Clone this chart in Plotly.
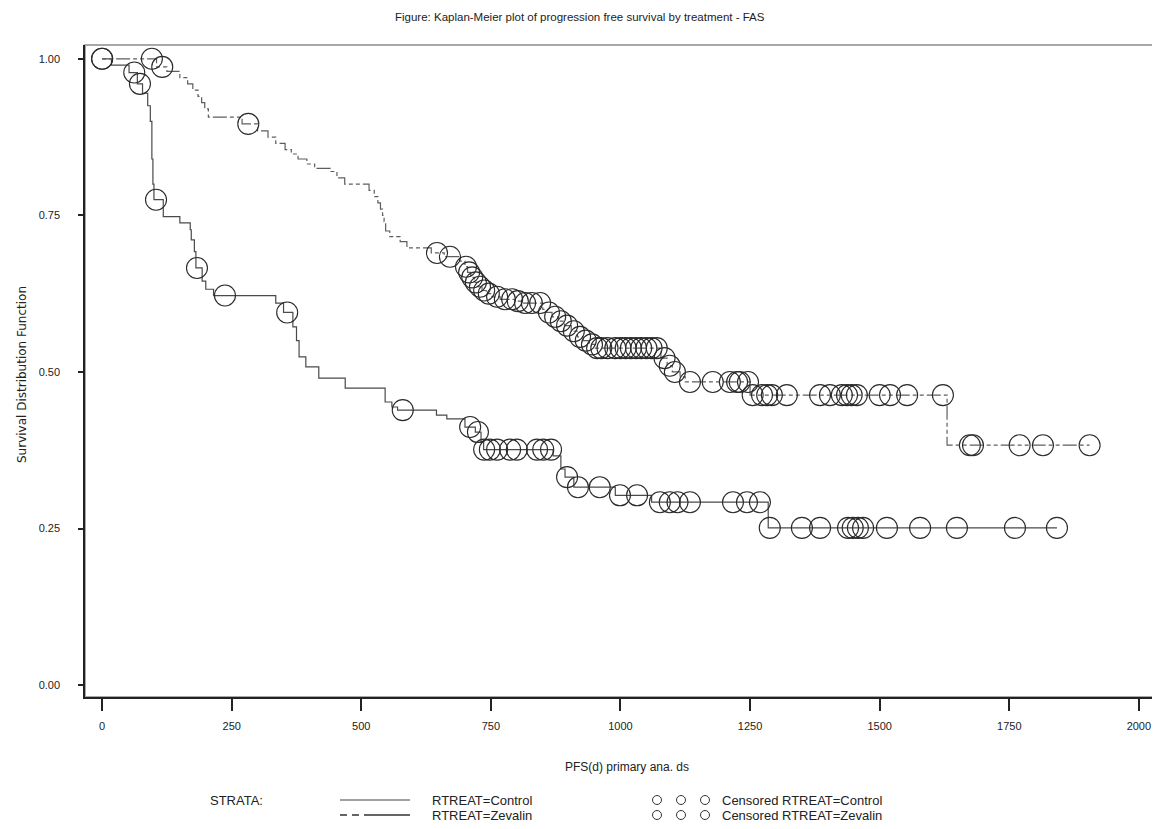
import plotly.graph_objects as go

# ---------------- data ----------------
# Control (solid): step events (time, survival after the event)
control_event_t = [0, 18, 52, 68, 78, 88, 93, 96, 98, 100, 118, 150, 170, 172, 178, 181,
                   193, 200, 215, 335, 350, 368, 375, 380, 393, 418, 469, 546, 559, 570,
                   645, 665, 700, 720, 731, 736, 870, 885, 893, 910, 990, 1060, 1285]
control_event_s = [1.0, 0.99, 0.978, 0.96, 0.945, 0.925, 0.90, 0.84, 0.80, 0.775, 0.748, 0.738, 0.727, 0.711, 0.692, 0.666,
                   0.645, 0.632, 0.622, 0.61, 0.595, 0.572, 0.55, 0.524, 0.508, 0.49, 0.474, 0.452, 0.444, 0.439,
                   0.431, 0.425, 0.412, 0.404, 0.388, 0.376, 0.366, 0.345, 0.332, 0.316, 0.303, 0.292, 0.251]
control_end_t = 1842
control_censor_t = [0, 62, 73, 104, 183, 237, 357, 580, 710, 725, 737, 748, 762, 787, 800, 839, 851, 866,
                    897, 918, 960, 999, 1032, 1076, 1095, 1110, 1134, 1217, 1244, 1269,
                    1288, 1350, 1385, 1439, 1448, 1458, 1468, 1514, 1578, 1649, 1761, 1842]

# Zevalin (dashed): step events
zev_event_t = [0, 105, 125, 150, 165, 175, 185, 192, 198, 205, 270, 300, 320, 335, 353, 365, 378, 395,
               410, 440, 453, 468, 515, 525, 532, 537, 541, 544, 547, 555, 575, 588, 635, 660, 690,
               700, 705, 711, 718, 725, 733, 741, 752, 768, 797, 810, 850, 857, 868, 880, 892, 905,
               917, 928, 940, 950, 1078, 1090, 1100, 1115, 1125, 1250, 1630]
zev_event_s = [1.0, 0.987, 0.98, 0.97, 0.96, 0.95, 0.94, 0.93, 0.92, 0.907, 0.896, 0.885, 0.875, 0.865, 0.855, 0.848, 0.84, 0.832,
               0.825, 0.82, 0.81, 0.80, 0.79, 0.78, 0.77, 0.76, 0.75, 0.74, 0.725, 0.716, 0.708, 0.698, 0.690, 0.684, 0.677,
               0.668, 0.659, 0.651, 0.643, 0.636, 0.630, 0.625, 0.620, 0.616, 0.613, 0.610, 0.600, 0.595, 0.588, 0.581, 0.574, 0.565,
               0.556, 0.550, 0.544, 0.538, 0.522, 0.510, 0.500, 0.492, 0.484, 0.463, 0.383]
zev_end_t = 1905
zev_censor_t = [0, 96, 116, 282, 646, 671, 702, 708, 714, 721, 729, 737, 746, 762, 777, 791, 802, 816, 829, 845,
                862, 874, 885, 897, 910, 922, 933, 945, 955, 963, 975, 990, 1000, 1010, 1020, 1030, 1040, 1050,
                1060, 1070, 1085, 1095, 1105, 1134, 1178, 1211, 1225, 1230, 1246, 1255, 1273, 1283, 1292, 1321,
                1385, 1404, 1427, 1437, 1446, 1456, 1500, 1520, 1553, 1622, 1674, 1680, 1770, 1815, 1905]

x_ticks = [0, 250, 500, 750, 1000, 1250, 1500, 1750, 2000]
y_ticks = [0.0, 0.25, 0.5, 0.75, 1.0]
y_tick_labels = ["0.00", "0.25", "0.50", "0.75", "1.00"]

title_text = "Figure: Kaplan-Meier plot of progression free survival by treatment - FAS"
x_title = "PFS(d) primary ana. ds"
y_title = "Survival Distribution Function"
strata = ["RTREAT=Control", "RTREAT=Zevalin"]


def surv_at(t, ev_t, ev_s):
    s = ev_s[0]
    for et, es in zip(ev_t, ev_s):
        if et <= t:
            s = es
    return s


def step_xy(ev_t, ev_s, end_t):
    return list(ev_t) + [end_t], list(ev_s) + [ev_s[-1]]


# page has an 8px body margin: work in reference-pixel coords and shift
OFF = 8
W, H = 1160 - OFF, 829 - OFF
L = 85 - OFF
T = 45 - OFF
RIGHT_EDGE = 1157 - OFF
BOTTOM_EDGE = 697 - OFF
R = W - RIGHT_EDGE
B = H - BOTTOM_EDGE
PW, PH = W - L - R, H - T - B

FONT = "Liberation Sans, Arial, sans-serif"
LINE_C = "#4a4a4a"
ZEV_C = "#5e5e5e"
MARK_C = "#2a2a2a"
ZEV_DASH = "4px,3px,4px,3px,14px,3px"

fig = go.Figure()

cx, cy = step_xy(control_event_t, control_event_s, control_end_t)
zx, zy = step_xy(zev_event_t, zev_event_s, zev_end_t)

fig.add_trace(go.Scatter(x=cx, y=cy, mode="lines", line=dict(shape="hv", color=LINE_C, width=1.2),
                         name=strata[0], showlegend=False))
fig.add_trace(go.Scatter(x=zx, y=zy, mode="lines",
                         line=dict(shape="hv", color=ZEV_C, width=1.2, dash=ZEV_DASH),
                         name=strata[1], showlegend=False))

fig.add_trace(go.Scatter(x=control_censor_t,
                         y=[surv_at(t, control_event_t, control_event_s) for t in control_censor_t],
                         mode="markers",
                         marker=dict(symbol="circle-open", size=21, color=MARK_C, line=dict(width=1.1)),
                         name="Censored " + strata[0], showlegend=False))
fig.add_trace(go.Scatter(x=zev_censor_t,
                         y=[surv_at(t, zev_event_t, zev_event_s) for t in zev_censor_t],
                         mode="markers",
                         marker=dict(symbol="circle-open", size=21, color=MARK_C, line=dict(width=1.1)),
                         name="Censored " + strata[1], showlegend=False))


def px(xp):
    # reference page pixel -> paper coord
    return (xp - OFF - L) / PW


def py(yp):
    return (H - B - (yp - OFF)) / PH


shapes = []
# grey frame (top/right visible; left/bottom covered by black axis lines)
shapes.append(dict(type="rect", xref="paper", yref="paper", x0=0, x1=1, y0=0, y1=1,
                   line=dict(color="#a8a8a8", width=2), layer="below"))

# legend line samples
shapes.append(dict(type="line", xref="paper", yref="paper", x0=px(340), x1=px(410), y0=py(800), y1=py(800),
                   line=dict(color="#808080", width=1.5)))
shapes.append(dict(type="line", xref="paper", yref="paper", x0=px(340), x1=px(410), y0=py(815), y1=py(815),
                   line=dict(color="#333333", width=1.5, dash="7px,5px,7px,5px,46px,100px")))
# legend circles
for yy in (800, 815):
    for xx in (657, 681, 705):
        shapes.append(dict(type="circle", xref="paper", yref="paper", xsizemode="pixel", ysizemode="pixel",
                           xanchor=px(xx), yanchor=py(yy), x0=-4.5, x1=4.5, y0=-4.5, y1=4.5,
                           line=dict(color="#333333", width=1)))

LEG_FS = 13
annotations = [
    dict(text=title_text, xref="paper", yref="paper", x=px(580), y=py(17), showarrow=False,
         font=dict(family=FONT, size=11.5, color="#222"), xanchor="center", yanchor="middle"),
    dict(text=x_title, xref="paper", yref="paper", x=px(627), y=py(767), showarrow=False,
         font=dict(family=FONT, size=12, color="#222"), xanchor="center", yanchor="middle"),
    dict(text=y_title, xref="paper", yref="paper", x=px(22), y=py(375), showarrow=False, textangle=-90,
         font=dict(family="DejaVu Sans, sans-serif", size=12, color="#222"), xanchor="center", yanchor="middle"),
    dict(text="STRATA:", xref="paper", yref="paper", x=px(208), y=py(800), showarrow=False,
         font=dict(family=FONT, size=LEG_FS, color="#222"), xanchor="left", yanchor="middle"),
    dict(text=strata[0], xref="paper", yref="paper", x=px(430), y=py(800), showarrow=False,
         font=dict(family=FONT, size=LEG_FS, color="#222"), xanchor="left", yanchor="middle"),
    dict(text=strata[1], xref="paper", yref="paper", x=px(430), y=py(815), showarrow=False,
         font=dict(family=FONT, size=LEG_FS, color="#222"), xanchor="left", yanchor="middle"),
    dict(text="Censored " + strata[0], xref="paper", yref="paper", x=px(720), y=py(800), showarrow=False,
         font=dict(family=FONT, size=LEG_FS, color="#222"), xanchor="left", yanchor="middle"),
    dict(text="Censored " + strata[1], xref="paper", yref="paper", x=px(720), y=py(815), showarrow=False,
         font=dict(family=FONT, size=LEG_FS, color="#222"), xanchor="left", yanchor="middle"),
]

fig.update_layout(
    width=W, height=H,
    margin=dict(l=L, r=R, t=T, b=B, pad=0),
    paper_bgcolor="white", plot_bgcolor="white",
    showlegend=False,
    shapes=shapes,
    annotations=annotations,
    font=dict(family=FONT, size=11, color="#222"),
)
fig.update_xaxes(range=[-33, 2035], tickvals=x_ticks, ticktext=[str(v) for v in x_ticks],
                 showgrid=False, zeroline=False, showline=True, linecolor="#222", linewidth=1.5,
                 ticks="outside", ticklen=12, tickcolor="#222", tickwidth=1.5,
                 tickfont=dict(family=FONT, size=11, color="#222"), ticklabelstandoff=6)
fig.update_yaxes(range=[-0.019, 1.022], tickvals=y_ticks, ticktext=y_tick_labels,
                 showgrid=False, zeroline=False, showline=True, linecolor="#222", linewidth=1.5,
                 ticks="outside", ticklen=5, tickcolor="#222", tickwidth=1.5,
                 tickfont=dict(family=FONT, size=11, color="#222"), ticklabelstandoff=16)

fig.write_html("out.html")
